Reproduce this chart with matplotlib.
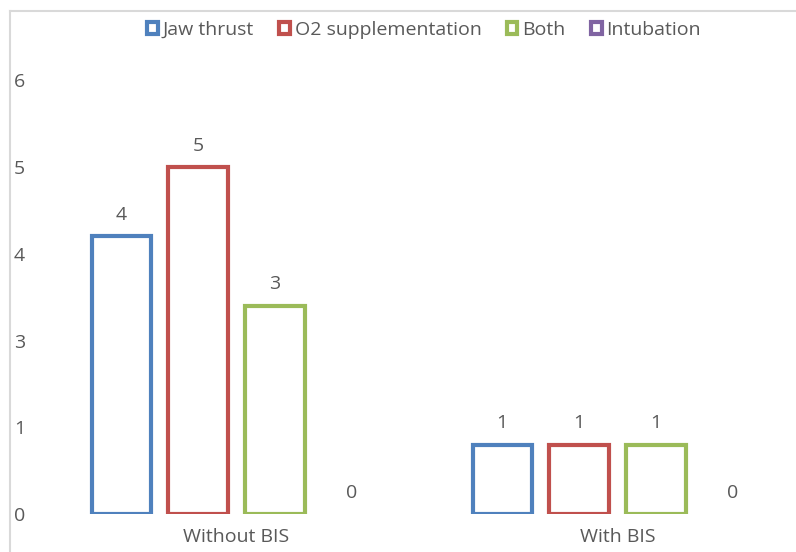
import math
import matplotlib
matplotlib.use("Agg")
import matplotlib.pyplot as plt
from matplotlib.lines import Line2D
from matplotlib.ticker import FixedLocator, FuncFormatter

plt.rcParams["font.family"] = ["Open Sans", "DejaVu Sans"]

groups = ["Without BIS", "With BIS"]
series = ["Jaw thrust", "O2 supplementation", "Both", "Intubation"]
values = {
    "Jaw thrust": [4, 1],
    "O2 supplementation": [5, 1],
    "Both": [3, 1],
    "Intubation": [0, 0],
}
colors = ["#4F81BD", "#C0504D", "#9BBB59", "#8064A2"]
y_ticks = [0, 1.25, 2.5, 3.75, 5, 6.25]

text_color = "#595959"
fs = 14

W, H = 796, 552
fig = plt.figure(figsize=(W / 100, H / 100), dpi=100)
ax = fig.add_axes([46 / W, (H - 514) / H, 762 / W, 433.75 / H])

step = 0.202
width = 0.155
x = range(len(groups))
for i, (name, col) in enumerate(zip(series, colors)):
    off = (i - 1.5) * step
    xs = [xi + off for xi in x]
    bars = ax.bar(xs, values[name], width=width, facecolor="white",
                  edgecolor=col, linewidth=3, label=name)
    for b, v in zip(bars, values[name]):
        if v == 0:
            b.set_linewidth(0)
        ax.annotate(f"{v}", (b.get_x() + b.get_width() / 2, v),
                    xytext=(0, 9), textcoords="offset points",
                    ha="center", va="bottom", fontsize=fs, color=text_color)

ax.set_xlim(-0.5, 1.5)
ax.set_ylim(0, 6.25)
ax.set_xticks(list(x))
ax.set_xticklabels(groups)
ax.yaxis.set_major_locator(FixedLocator(y_ticks))
ax.yaxis.set_major_formatter(FuncFormatter(lambda v, p: f"{math.floor(v + 0.5)}"))
ax.tick_params(axis="both", length=0, labelsize=fs, labelcolor=text_color)
ax.tick_params(axis="y", pad=15)
ax.tick_params(axis="x", pad=10)
for s in ax.spines.values():
    s.set_visible(False)

# chart-area border along the top and left edges
fig.add_artist(Line2D([10 / W, 10 / W], [0, (H - 11) / H], color="#D9D9D9", lw=1.5))
fig.add_artist(Line2D([10 / W, 1], [(H - 11) / H, (H - 11) / H], color="#D9D9D9", lw=1.5))

handles = [plt.Rectangle((0, 0), 1, 1, facecolor="white", edgecolor=c, linewidth=3)
           for c in colors]
fig.legend(handles, series, loc="center", bbox_to_anchor=(424 / W, 1 - 30 / H),
           ncol=4, frameon=False, fontsize=fs, labelcolor=text_color,
           handlelength=0.55, handleheight=0.55, handletextpad=0.25, columnspacing=1.3)

fig.savefig("out.png", dpi=100)
